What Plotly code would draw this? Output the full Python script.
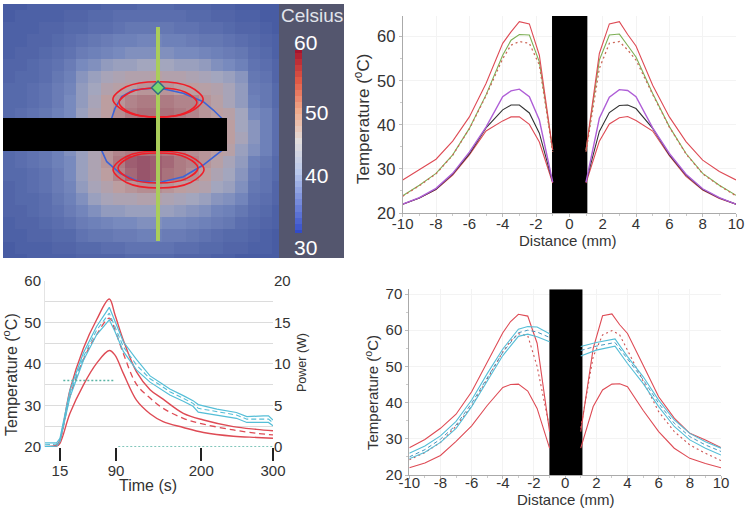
import plotly.graph_objects as go

W, H = 750, 511

# ---------- heat map panel ----------
heat_rows = [
 [30,30,31,31,31,31,31,31,32,32,32,33,33,33,32,32,32,31,31,30,30,30,30],
 [30,31,31,31,31,32,32,33,33,34,34,34,34,34,34,33,33,32,32,31,31,30,30],
 [31,31,31,32,32,33,33,34,34,35,36,36,36,36,35,35,34,34,33,32,32,31,30],
 [31,31,32,32,33,34,35,36,37,38,38,39,39,38,38,37,36,36,35,34,33,32,31],
 [31,32,32,33,34,35,37,38,39,40,41,41,41,41,40,40,39,38,37,36,34,33,31],
 [32,32,33,34,35,37,40,41,43,44,44,45,45,45,44,44,43,41,40,38,35,34,32],
 [32,33,33,34,36,38,42,44,46,47,48,48,49,48,48,47,46,45,44,42,36,35,32],
 [33,33,34,35,37,39,43,45,48,49,50,51,51,51,50,50,49,48,46,43,37,36,33],
 [33,33,34,35,37,40,43,46,50,51,53,54,54,54,53,53,51,49,46,43,38,36,33],
 [33,34,35,36,38,40,44,47,50,52,54,55,55,55,54,53,51,50,49,45,40,38,34],
 [33,34,35,36,38,41,44,47,50,52,54,54,54,54,53,52,51,50,50,45,42,38,34],
 [33,34,35,36,38,41,44,47,50,52,54,54,54,54,53,52,51,50,50,46,42,38,34],
 [33,34,35,36,38,41,44,47,51,53,54,55,55,54,53,52,51,50,49,44,41,38,34],
 [33,34,35,36,38,40,44,47,51,54,57,58,57,56,54,53,51,49,46,43,38,36,33],
 [33,33,34,35,37,40,44,47,50,53,56,58,57,55,54,52,50,47,45,42,37,35,33],
 [32,33,34,35,37,39,43,46,48,50,51,52,52,51,50,49,48,45,44,41,36,35,32],
 [32,33,33,34,36,38,41,44,46,47,47,48,48,47,46,45,44,42,41,39,35,34,32],
 [32,32,33,34,35,37,39,41,43,43,44,44,44,44,43,42,41,39,38,36,34,33,31],
 [31,32,32,33,34,35,37,38,39,40,40,41,41,40,40,39,38,37,36,34,33,32,31],
 [31,31,32,32,33,33,35,36,36,37,37,38,38,37,37,36,35,34,33,33,32,31,30],
 [30,31,31,31,32,32,33,33,34,34,35,35,35,35,34,34,33,33,32,32,31,31,30],
 [30,30,31,31,31,31,32,32,32,32,33,33,33,33,32,32,32,31,31,30,30,30,30],
]
heat_scale = [[0,"rgb(72,92,163)"],[0.333,"rgb(120,138,190)"],[0.5,"rgb(163,166,190)"],
              [0.667,"rgb(188,158,160)"],[0.83,"rgb(170,115,125)"],[1,"rgb(140,65,95)"]]
bar_values = [30,31,32,33,34,35,36,37,38,39,40,41,42,43,44,45,46,47,48,49,50,51,52,53,54,55,56,57,58,59,60]
bar_scale = [[0,"rgb(50,75,200)"],[0.333,"rgb(185,200,235)"],[0.5,"rgb(225,220,220)"],
             [0.667,"rgb(240,170,140)"],[0.83,"rgb(225,90,70)"],[1,"rgb(165,20,45)"]]

blue_x = [0.03,-2.31,-3.39,-4.02,-4.33,-5.26,-4.79,-3.55,-1.99,0.03,2.36,4.23,5.95,5.95,5.17,4.23,2.36,0.03]
blue_y = [4.33,4.11,3.49,2.40,1.47,-1.56,-2.59,-3.67,-4.36,-4.55,-3.99,-2.90,-1.56,1.47,2.24,3.02,3.80,4.33]
upper_outer_x = [4.22,2.98,0,-2.98,-4.22,-2.98,0,2.98,4.22]
upper_outer_y = [3.24,4.41,4.89,4.41,3.24,2.07,1.59,2.07,3.24]
upper_inner_x = [3.64,2.57,0,-2.57,-3.64,-2.57,0,2.57,3.64]
upper_inner_y = [2.94,3.90,4.30,3.90,2.94,1.98,1.58,1.98,2.94]
lower_outer_x = [4.30,3.05,0.05,-2.95,-4.20,-2.95,0.05,3.05,4.30]
lower_outer_y = [-3.32,-2.10,-1.59,-2.10,-3.32,-4.54,-5.05,-4.54,-3.32]
lower_inner_x = [3.74,2.64,0,-2.64,-3.74,-2.64,0,2.64,3.74]
lower_inner_y = [-3.18,-2.19,-1.78,-2.19,-3.18,-4.17,-4.58,-4.17,-3.18]
probe_x = [-14.5,6.45,6.45,-14.5,-14.5]
probe_y = [1.5,1.5,-1.59,-1.59,1.5]
scan_x = [0,0]
scan_y = [10,-10]
marker_x = [0]
marker_y = [4.33]

# ---------- top-right profiles ----------
left_x = [-10,-9,-8,-7,-6,-5,-4,-3.5,-3,-2.4,-1.8,-1]
right_x = [1,1.8,2.4,3,3.5,4,5,6,7,8,9,10]
tr_red_hi_l = [27.5,29.9,32.2,36.3,41.8,49.4,58.5,61.1,63.4,62.9,55.8,34.3]
tr_red_hi_r = [34.3,56.2,62.9,63.4,60.5,57.9,49.0,41.8,36.2,32.0,29.4,27.5]
tr_green_l = [23.9,26.3,29.0,33.2,39.2,46.8,55.8,59.2,60.5,60.4,54.3,34.3]
tr_green_r = [34.3,54.7,60.4,60.6,58.0,55.4,47.1,39.6,33.5,29.0,26.3,24.0]
tr_dash_l = [23.8,26.2,28.9,33.1,39.1,46.6,55.0,58.1,58.9,58.5,53.6,33.9]
tr_dash_r = [33.9,52.8,58.5,58.9,57.0,54.7,46.9,39.5,33.4,28.9,26.2,23.9]
tr_purple_l = [22.0,23.5,25.6,29.0,33.8,39.5,46.4,47.7,48.1,46.4,41.1,27.0]
tr_purple_r = [27.0,41.5,46.3,48.0,47.8,46.4,39.3,33.5,28.8,25.5,23.5,22.0]
tr_black_l = [22.0,23.4,25.4,28.8,33.4,39.3,43.4,44.5,44.5,42.7,38.1,27.0]
tr_black_r = [27.0,38.5,42.8,44.4,44.5,43.7,39.2,33.2,28.6,25.3,23.4,22.0]
tr_red_lo_l = [22.0,23.4,25.3,28.6,33.2,38.6,40.9,41.8,41.8,40.1,36.1,26.8]
tr_red_lo_r = [26.8,36.3,40.2,41.6,41.9,41.0,38.6,33.0,28.3,25.2,23.3,22.0]

# ---------- bottom-left time courses ----------
t_early = [-5,10.6,15,28.4,46.3,64,81,88.6,99.8,117.6,135.5]
red_hi_early = [20.1,20.5,21.7,33.7,43.7,50.6,55.6,51.8,45.7,38.0,33.8]
red_mid_early = [20.1,20.3,21.7,32.1,41.0,47.0,51.0,48.1,42.5,35.0,31.8]
red_lo_early = [20.1,20.2,20.9,28.1,34.9,40.1,43.2,42.1,37.7,31.2,28.0]
t_late_red = [153,180,207,247,278,300]
red_hi_late = [31.5,28.1,26.5,24.9,24.25,23.9]
red_mid_late = [29.3,26.9,25.5,24.1,23.3,22.9]
red_lo_late = [26.1,24.7,23.5,22.6,22.3,22.1]
t_cyan = [-5,10.6,15,28.4,46.3,64,81,88.6,99.8,117.6,135.5,149,162,180,193,200,225,251,265,287,294,300]
cyan_hi = [21.0,21.0,22.1,33.7,42.6,49.0,53.6,50.3,45.3,41.0,37.1,35.5,33.95,32.35,31.15,30.2,29.1,28.3,27.3,27.5,27.5,26.5]
cyan_mid = [20.5,20.7,21.7,32.9,41.7,48.1,52.2,49.0,44.1,39.7,36.4,34.9,33.3,31.7,30.5,29.3,28.5,27.7,26.7,26.7,26.7,25.8]
cyan_lo = [20.1,20.2,21.3,32.0,40.8,47.0,50.6,47.8,43.0,38.5,35.6,34.1,32.5,31.0,29.8,28.4,27.7,26.9,25.9,25.9,25.9,25.1]
t_power_on = [19.5,88.6]
power_on = [8,8]
t_power_off = [93,300]
power_off = [0,0]

# ---------- bottom-right profiles ----------
br_x_cy_l = [-10,-9,-8,-7,-6,-5,-4,-3,-2.4,-1.8,-1]
br_x_cy_r = [1,2,3.2,4,5,6,7,8,9,10]
br_red_hi_l = [27.5,29.8,32.9,36.8,43.0,51.1,59.3,62.4,64.4,63.9,56.4,32.0]
br_red_hi_r = [32.0,55.0,64.0,64.5,61.5,59.1,50.4,41.6,35.7,31.5,29.7,27.6]
br_red_lo_l = [22.0,23.3,25.4,29.3,33.6,39.2,44.2,45.0,45.1,43.2,38.4,27.4]
br_red_lo_r = [27.4,38.9,43.5,45.1,45.2,44.4,37.9,32.0,27.4,24.6,23.2,22.0]
br_dash_l = [24.2,26.2,29.0,33.5,39.0,46.5,54.0,57.0,59.0,58.5,50.0,33.0]
br_dash_r = [33.0,52.7,58.7,59.9,58.7,54.5,46.2,37.5,32.0,28.3,26.0,24.0]
br_cy_hi_l = [26.0,28.0,30.8,34.8,40.7,48.0,54.8,60.3,61.0,60.9,59.0]
br_cy_mid_l = [25.0,27.0,29.9,33.8,39.8,47.0,53.9,59.3,60.0,59.5,58.0]
br_cy_lo_l = [24.5,26.3,29.0,32.9,38.9,46.0,53.0,58.3,58.9,58.2,56.8]
br_cy_hi_r = [55.5,56.6,57.6,52.7,47.2,40.7,35.2,31.5,29.2,27.4]
br_cy_mid_r = [54.4,55.6,56.6,52.0,46.4,39.8,34.3,30.6,28.3,26.5]
br_cy_lo_r = [52.9,54.5,55.6,50.8,45.3,38.9,33.4,29.7,27.4,25.5]

dist_ticks = [-10,-8,-6,-4,-2,0,2,4,6,8,10]
dist_labels = ["-10","-8","-6","-4","-2","0","2","4","6","8","10"]
time_tick_positions = [15,90,204,300]
time_tick_labels = ["15","90","200","300"]

RED = "rgb(222,75,85)"
CYAN = "rgb(85,190,215)"
GREEN = "rgb(125,175,85)"
PURPLE = "rgb(175,95,215)"
TEXT = "#333333"
FONT = "Liberation Sans"

def dx(a, b):
    return [a / W, b / W]

def dy(top, bottom):
    return [1 - bottom / H, 1 - top / H]

fig = go.Figure()

def line(x, y, color, ax, width=1.1, dash=None, shape="linear"):
    fig.add_trace(go.Scatter(x=x, y=y, mode="lines", xaxis=ax[0], yaxis=ax[1], showlegend=False,
                             hoverinfo="skip", line=dict(color=color, width=width, dash=dash, shape=shape)))

# heat map
A = ("x", "y")
fig.add_trace(go.Heatmap(z=heat_rows, x0=-13.96, dx=1.147, y0=12.15, dy=-1.14, zmin=30, zmax=60,
                         colorscale=heat_scale, showscale=False, xaxis="x", yaxis="y", hoverinfo="skip"))
line(blue_x, blue_y, "rgb(60,100,215)", A, 1.6)
for ex, ey in [(upper_outer_x, upper_outer_y), (upper_inner_x, upper_inner_y),
               (lower_outer_x, lower_outer_y), (lower_inner_x, lower_inner_y)]:
    line(ex, ey, "rgb(240,30,40)", A, 1.6, shape="spline")
fig.add_trace(go.Scatter(x=probe_x, y=probe_y, mode="lines", fill="toself", fillcolor="black",
                         line=dict(color="black", width=0), xaxis="x", yaxis="y", showlegend=False, hoverinfo="skip"))
line(scan_x, scan_y, "rgb(170,205,90)", A, 4)
fig.add_trace(go.Scatter(x=marker_x, y=marker_y, mode="markers", xaxis="x", yaxis="y", showlegend=False,
                         hoverinfo="skip", marker=dict(symbol="diamond", size=10, color="rgb(120,215,110)",
                                                       line=dict(color="rgb(50,110,130)", width=1.5))))
# colour bar strip
fig.add_trace(go.Heatmap(z=[[v] for v in bar_values], y=bar_values, x=[0], zmin=30, zmax=60,
                         colorscale=bar_scale, showscale=False, xaxis="x2", yaxis="y2", hoverinfo="skip"))

# top right
B = ("x3", "y3")
line(left_x, tr_red_lo_l, RED, B); line(right_x, tr_red_lo_r, RED, B)
line(left_x, tr_black_l, "#333333", B); line(right_x, tr_black_r, "#333333", B)
line(left_x, tr_purple_l, PURPLE, B, 1.4); line(right_x, tr_purple_r, PURPLE, B, 1.4)
line(left_x, tr_green_l, GREEN, B); line(right_x, tr_green_r, GREEN, B)
line(left_x, tr_dash_l, "rgb(205,105,90)", B, 1.3, "2px,3px"); line(right_x, tr_dash_r, "rgb(205,105,90)", B, 1.3, "2px,3px")
line(left_x, tr_red_hi_l, RED, B); line(right_x, tr_red_hi_r, RED, B)
fig.add_trace(go.Bar(x=[0.02], y=[44.7], base=[20], width=[2.12], marker=dict(color="black", line=dict(width=0)),
                     xaxis="x3", yaxis="y3", showlegend=False, hoverinfo="skip"))

# bottom left
C = ("x4", "y4")
P = ("x4", "y5")
line(t_early + t_late_red, red_hi_early + red_hi_late, RED, C, 1.4, shape="spline")
line(t_early + t_late_red, red_mid_early + red_mid_late, RED, C, 1.3, "6px,4px", shape="spline")
line(t_early + t_late_red, red_lo_early + red_lo_late, RED, C, 1.4, shape="spline")
line(t_cyan, cyan_hi, CYAN, C, 1.2)
line(t_cyan, cyan_mid, CYAN, C, 1.1, "5px,3px")
line(t_cyan, cyan_lo, CYAN, C, 1.2)
line(t_power_on, power_on, "rgb(90,180,165)", P, 1.5, "2px,2px")
line(t_power_off, power_off, "rgb(90,180,165)", P, 1.5, "2px,2px")

# bottom right
D = ("x6", "y6")
line(left_x, br_red_lo_l, RED, D); line(right_x, br_red_lo_r, RED, D)
line(left_x, br_red_hi_l, RED, D); line(right_x, br_red_hi_r, RED, D)
line(left_x, br_dash_l, "rgb(205,85,85)", D, 1.1, "2px,3px"); line(right_x, br_dash_r, "rgb(205,85,85)", D, 1.1, "2px,3px")
line(br_x_cy_l, br_cy_hi_l, CYAN, D); line(br_x_cy_r, br_cy_hi_r, CYAN, D)
line(br_x_cy_l, br_cy_mid_l, "rgb(70,150,190)", D, 1, "4px,3px"); line(br_x_cy_r, br_cy_mid_r, "rgb(70,150,190)", D, 1, "4px,3px")
line(br_x_cy_l, br_cy_lo_l, CYAN, D); line(br_x_cy_r, br_cy_lo_r, CYAN, D)
fig.add_trace(go.Bar(x=[0.05], y=[51.3], base=[20], width=[2.12], marker=dict(color="black", line=dict(width=0)),
                     xaxis="x6", yaxis="y6", showlegend=False, hoverinfo="skip"))

hidden = dict(visible=False, fixedrange=True, automargin=False)
tick_font = dict(family=FONT, size=15, color=TEXT)

def dist_axis(domain, anchor, standoff):
    return dict(domain=domain, anchor=anchor, range=[-10, 10], tickmode="array", tickvals=dist_ticks,
                ticktext=dist_labels, ticks="outside", ticklen=3, tickcolor="#bbbbbb", showline=True,
                linecolor="#aaaaaa", showgrid=True, gridcolor="#f3f3f3", zeroline=False, tickfont=tick_font,
                ticklabelstandoff=standoff, automargin=False,
                minor=dict(dtick=1, ticks="outside", ticklen=2, tickcolor="#cccccc"))

def temp_axis(domain, anchor, rng, vals, size):
    return dict(domain=domain, anchor=anchor, range=rng, tickmode="array", tickvals=vals, ticks="outside",
                ticklen=3, tickcolor="#bbbbbb", showline=True, linecolor="#aaaaaa", showgrid=True,
                gridcolor="#f3f3f3", zeroline=False, tickfont=dict(family=FONT, size=size, color=TEXT), automargin=False,
                minor=dict(dtick=5, ticks="outside", ticklen=2, tickcolor="#cccccc"))

def text(s, px, py, size, color=TEXT, angle=0):
    return dict(text=s, x=px / W, y=1 - py / H, xref="paper", yref="paper", showarrow=False, textangle=angle,
                xanchor="center", yanchor="middle", font=dict(family=FONT, size=size, color=color))

TEMP = "Temperature (<sup>o</sup>C)"
fig.update_layout(
    template="none",
    width=W, height=H, autosize=False, margin=dict(l=0, r=0, t=0, b=0, pad=0), paper_bgcolor="white",
    plot_bgcolor="rgba(0,0,0,0)", showlegend=False, font=dict(family=FONT, color=TEXT), barmode="overlay",
    xaxis=dict(domain=dx(3, 279), range=[-14.49, 11.31], anchor="y", **hidden),
    yaxis=dict(domain=dy(4, 258), range=[-11.59, 12.15], anchor="x", **hidden),
    xaxis2=dict(domain=dx(295, 302), anchor="y2", **hidden),
    yaxis2=dict(domain=dy(50, 233), range=[30, 60], anchor="x2", **hidden),
    xaxis3=dist_axis(dx(402.7, 736), "y3", -6),
    yaxis3=temp_axis(dy(16, 213), "x3", [20, 64.7], [20, 30, 40, 50, 60], 16.5),
    xaxis4=dict(domain=dx(45, 273), anchor="y4", range=[-5, 300], tickmode="array", tickvals=time_tick_positions,
                ticktext=time_tick_labels, ticks="outside", ticklen=13, tickwidth=1.5, tickcolor="#222222",
                showgrid=False, zeroline=False, showline=False, tickfont=tick_font, automargin=False,
                ticklabelstandoff=-3),
    yaxis4=dict(domain=dy(280.7, 447), anchor="x4", range=[20, 60], tickmode="array", tickvals=[20, 30, 40, 50, 60],
                showgrid=True, gridcolor="#dcdcdc", gridwidth=1.4, zeroline=False, showline=True, linecolor="#e4e4e4",
                tickfont=tick_font, automargin=False, minor=dict(dtick=5, showgrid=True, gridcolor="#dcdcdc", gridwidth=1.4)),
    yaxis5=dict(domain=dy(280.7, 447), anchor="x4", overlaying="y4", side="right", range=[0, 20], tickmode="array",
                tickvals=[0, 5, 10, 15, 20], showgrid=False, zeroline=False, showline=False, tickfont=tick_font,
                automargin=False),
    xaxis6=dist_axis(dx(409.3, 721), "y6", -9),
    yaxis6=temp_axis(dy(289.3, 475), "x6", [20, 71.3], [20, 30, 40, 50, 60, 70], 15),
    shapes=[dict(type="rect", xref="paper", yref="paper", x0=279 / W, x1=344 / W, y0=1 - 258 / H, y1=1 - 4 / H,
                 fillcolor="rgb(84,86,110)", line=dict(width=0), layer="below")],
    annotations=[
        text("Celsius", 312, 15, 19, "rgb(225,228,235)"),
        text("60", 305, 42, 21, "white"), text("50", 316, 113, 21, "white"),
        text("40", 316, 175, 21, "white"), text("30", 305, 247, 21, "white"),
        text("Distance (mm)", 568, 241, 15),
        text(TEMP, 362, 119, 17, angle=-90),
        text("Time (s)", 148, 485, 16),
        text(TEMP, 10, 375, 16, angle=-90),
        text("Power (W)", 302, 363, 12.5, angle=-90),
        text("Distance (mm)", 566, 499, 15),
        text(TEMP, 371, 393, 15, angle=-90),
    ],
)
fig.write_html("out.html", config={"displayModeBar": False},
               post_script="document.body.style.margin='0';document.body.style.overflow='hidden';")
